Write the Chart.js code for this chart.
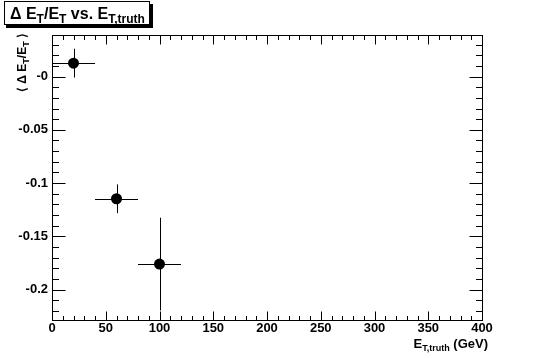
<!DOCTYPE html>
<html>
<head>
<meta charset="utf-8">
<script src="https://cdn.jsdelivr.net/npm/chart.js@4/dist/chart.umd.min.js"></script>
<style>
  body { margin: 0; background: #fff; }
  #wrap { width: 536px; height: 358px; }
</style>
</head>
<body>
<div id="wrap"><canvas id="chart" width="536" height="358"></canvas></div>
<script>
'use strict';

// data
const ptX = [20, 60, 100];
const ptY = [0.0126, -0.1147, -0.176];
const ptXErr = [20, 20, 20];
const ptYErr = [0.0135, 0.0135, 0.0435];

const xTickValues = [0, 50, 100, 150, 200, 250, 300, 350, 400];
const xTickLabels = ['0', '50', '100', '150', '200', '250', '300', '350', '400'];
const yTickValues = [0, -0.05, -0.1, -0.15, -0.2];
const yTickLabels = ['-0', '-0.05', '-0.1', '-0.15', '-0.2'];

const xMin = 0, xMax = 400;
const yMin = -0.2285, yMax = 0.039;

const FONT = "'Liberation Sans', Arial, sans-serif";
const NARROW = "'Liberation Sans Narrow', 'Liberation Sans', Arial, sans-serif";

// draw text made of pieces (for subscripts)
function drawRich(ctx, parts, x, y, align, family) {
  family = family || FONT;
  let total = 0;
  for (let p of parts) {
    ctx.font = 'bold ' + p.size + 'px ' + family;
    p.w = ctx.measureText(p.t).width;
    total += p.w;
  }
  let cx = x;
  if (align === 'right') cx = x - total;
  if (align === 'center') cx = x - total / 2;
  ctx.textAlign = 'left';
  ctx.textBaseline = 'alphabetic';
  for (let p of parts) {
    ctx.font = 'bold ' + p.size + 'px ' + family;
    ctx.fillText(p.t, cx, y + (p.dy || 0));
    cx += p.w;
  }
  return total;
}

const rootStyle = {
  id: 'rootStyle',
  beforeDatasetsDraw(chart) {
    const ctx = chart.ctx;
    const xs = chart.scales.x;
    const ys = chart.scales.y;
    ctx.save();
    ctx.strokeStyle = '#000';
    ctx.lineWidth = 1;
    for (let i = 0; i < ptX.length; i++) {
      const px = Math.round(xs.getPixelForValue(ptX[i])) + 0.5;
      const py = Math.round(ys.getPixelForValue(ptY[i])) + 0.5;
      ctx.beginPath();
      ctx.moveTo(xs.getPixelForValue(ptX[i] - ptXErr[i]), py);
      ctx.lineTo(xs.getPixelForValue(ptX[i] + ptXErr[i]), py);
      ctx.moveTo(px, ys.getPixelForValue(ptY[i] + ptYErr[i]));
      ctx.lineTo(px, ys.getPixelForValue(ptY[i] - ptYErr[i]));
      ctx.stroke();
    }
    ctx.restore();
  },
  afterDraw(chart) {
    const ctx = chart.ctx;
    const area = chart.chartArea;
    const xs = chart.scales.x;
    const ys = chart.scales.y;
    const L = Math.round(area.left) + 0.5, R = Math.round(area.right) + 0.5;
    const T = Math.round(area.top) + 0.5, B = Math.round(area.bottom) + 0.5;
    ctx.save();
    ctx.strokeStyle = '#000';
    ctx.lineWidth = 1;
    ctx.strokeRect(L, T, R - L, B - T);

    // inward ticks on all four sides
    ctx.beginPath();
    for (let v = 0; v <= 400; v += 10) {
      const px = Math.round(xs.getPixelForValue(v)) + 0.5;
      const len = v % 50 === 0 ? 9 : 4.5;
      ctx.moveTo(px, B); ctx.lineTo(px, B - len);
      ctx.moveTo(px, T); ctx.lineTo(px, T + len);
    }
    for (let k = -22; k <= 3; k++) {
      const py = Math.round(ys.getPixelForValue(k / 100)) + 0.5;
      const len = k % 5 === 0 ? 13 : 6.5;
      ctx.moveTo(L, py); ctx.lineTo(L + len, py);
      ctx.moveTo(R, py); ctx.lineTo(R - len, py);
    }
    ctx.stroke();

    // title box with shadow
    ctx.fillStyle = '#000';
    ctx.fillRect(6, 4, 147, 24);
    ctx.fillStyle = '#fff';
    ctx.fillRect(4, 1, 146, 24);
    ctx.strokeRect(4.5, 1.5, 145, 23);
    ctx.fillStyle = '#000';
    drawRich(ctx, [
      { t: '\u0394 E', size: 16 },
      { t: 'T', size: 12, dy: 4 },
      { t: '/E', size: 16 },
      { t: 'T', size: 12, dy: 4 },
      { t: ' vs. E', size: 16 },
      { t: 'T,truth', size: 12, dy: 4 }
    ], 10, 19, 'left');

    // x axis title
    drawRich(ctx, [
      { t: 'E', size: 13 },
      { t: 'T,truth', size: 9, dy: 3 },
      { t: ' (GeV)', size: 13 }
    ], 488, 348, 'right', NARROW);

    // y axis title, rotated
    ctx.translate(26, 33);
    ctx.rotate(-Math.PI / 2);
    drawRich(ctx, [
      { t: '\u27E8 \u0394 E', size: 12 },
      { t: 'T', size: 9, dy: 3 },
      { t: '/E', size: 12 },
      { t: 'T', size: 9, dy: 3 },
      { t: ' \u27E9', size: 12 }
    ], 0, 0, 'right');
    ctx.restore();
  }
};

const ctx = document.getElementById('chart').getContext('2d');

const myChart = new Chart(ctx, {
  type: 'scatter',
  data: {
    datasets: [{
      data: ptX.map((x, i) => ({ x: x, y: ptY[i] })),
      backgroundColor: '#000',
      borderColor: '#000',
      pointRadius: 5.5,
      pointHoverRadius: 5.5,
      borderWidth: 0
    }]
  },
  options: {
    responsive: false,
    animation: false,
    events: [],
    layout: { padding: { left: 0, top: 35, right: 54, bottom: 0 } },
    plugins: {
      legend: { display: false },
      tooltip: { enabled: false }
    },
    scales: {
      x: {
        type: 'linear',
        min: xMin,
        max: xMax,
        grid: { display: false, drawTicks: false, tickLength: 0 },
        border: { display: false },
        afterBuildTicks: (scale) => { scale.ticks = xTickValues.map(v => ({ value: v })); },
        afterFit: (scale) => { scale.height = 38; },
        ticks: {
          color: '#000',
          padding: 1,
          maxRotation: 0,
          autoSkip: false,
          font: { family: NARROW, size: 13, weight: 'bold' },
          callback: (value, index) => xTickLabels[index]
        }
      },
      y: {
        type: 'linear',
        min: yMin,
        max: yMax,
        grid: { display: false, drawTicks: false, tickLength: 0 },
        border: { display: false },
        afterBuildTicks: (scale) => { scale.ticks = yTickValues.map(v => ({ value: v })); },
        afterFit: (scale) => { scale.width = 52; },
        ticks: {
          color: '#000',
          padding: 4,
          autoSkip: false,
          font: { family: NARROW, size: 13, weight: 'bold' },
          callback: (value, index) => yTickLabels[index]
        }
      }
    }
  },
  plugins: [rootStyle]
});
</script>
</body>
</html>
